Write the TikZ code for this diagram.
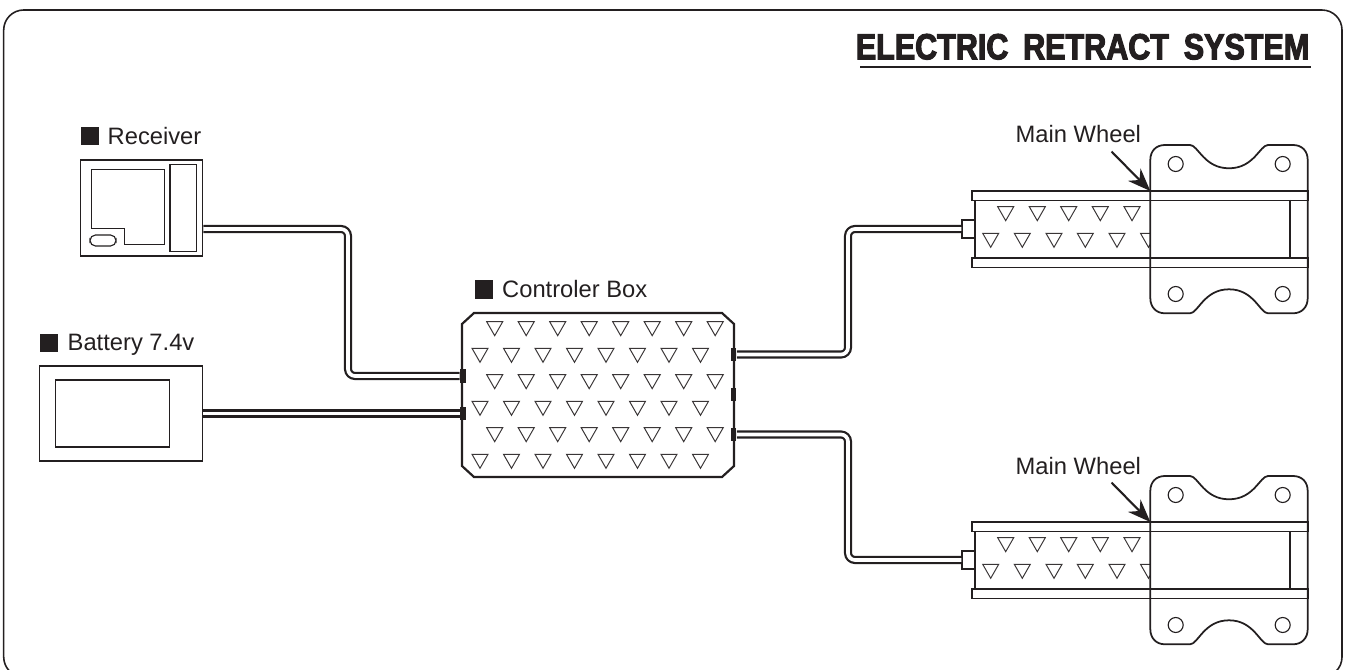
\documentclass[tikz,border=0pt]{standalone}
\usepackage{fontspec}
\setmainfont{Liberation Sans}
\newfontfamily\titlefont[FakeStretch=0.84,FakeBold=3,WordSpace=1.75]{Liberation Sans Bold}
\usetikzlibrary{calc,arrows.meta}
\definecolor{figInk}{HTML}{231F20}
\definecolor{figTri}{HTML}{3A3637}
\tikzset{
    boxline/.style={draw=figInk,line width=0.5pt,fill=white,inner sep=0pt},
    thinline/.style={draw=figInk,line width=0.32pt},
    tri/.style={draw=figTri,line width=0.28pt,line join=miter},
    sqmark/.style={fill=figInk,inner sep=0pt,minimum size=0.18cm},
    namelabel/.style={text=figInk,font=\fontsize{6.75}{8}\selectfont,anchor=base west,inner sep=0pt},
    wire/.style={draw=figInk,line width=0.62pt,double=white,double distance=1.05pt,rounded corners=0.07cm},
    plugblk/.style={fill=figInk,inner sep=0pt,minimum width=0.055cm,minimum height=0.13cm},
    pointer/.style={draw=figInk,line width=0.6pt,-{Stealth[length=6.5pt,width=5pt]}},
}
\newcommand{\tridown}[1]{\draw[tri] (#1) ++(-8,0) -- ++(16,0) -- ++(-8,14) -- cycle;}
\begin{document}
\begin{tikzpicture}[x=0.01cm,y=-0.01cm]
    \useasboundingbox (0,0) rectangle (1348,670);
    % outer frame, its lower edge runs off the page
    \begin{scope}
        \clip (0,0) rectangle (1348,670);
        \draw[figInk,line width=0.45pt,rounded corners=0.2cm] (3.7,10) rectangle (1342,677);
    \end{scope}
    % title with its rule
    \node[text=figInk,font=\titlefont\fontsize{10.33}{12}\selectfont,anchor=base east,inner sep=0pt] (title) at (1310,59.3) {ELECTRIC RETRACT SYSTEM};
    \draw[figInk,line width=0.75pt] (860,67) -- (1310.5,67);
    % receiver
    \node[boxline,minimum width=1.22cm,minimum height=0.96cm] (receiver) at (141.5,208) {};
    \draw[thinline] (91.5,169.5) -- (164.5,169.5) -- (164.5,244.5) -- (124.5,244.5) -- (124.5,228.5) -- (91.5,228.5) -- cycle;
    \draw[thinline] (170,164.5) rectangle (196.5,251.5);
    \draw[thinline,rounded corners=0.055cm] (90,235) rectangle (116,246);
    \node[sqmark] (recvmark) at (90,136) {};
    \node[namelabel] (recvname) at (107,145) {Receiver};
    % battery
    \node[boxline,minimum width=1.63cm,minimum height=0.95cm] (battery) at (121,413.5) {};
    \draw[figInk,line width=0.4pt] (55.5,380) rectangle (169.5,447);
    \node[sqmark] (battmark) at (49,343) {};
    \node[namelabel] (battname) at (67,350.5) {Battery 7.4v};
    % controller box
    \draw[boxline,line width=0.62pt] (474,313) -- (722,313) -- (734,324) -- (734,466) -- (722,477) -- (474,477) -- (462,466) -- (462,324) -- cycle;
    \foreach \y/\x in {321.7/494.7,348.3/480,374.7/494.7,401.3/480,427.7/494.7,454.3/480}{
        \foreach \i in {0,...,7}{
            \tridown{{\x+31.5*\i},\y}
        }
    }
    \node[sqmark] (ctrlmark) at (484,289.5) {};
    \node[namelabel] (ctrlname) at (501.5,297.7) {Controler Box};
    % plugs on the box
    \coordinate (recvout) at ($(receiver.east)+(0,21)$);
    \node[plugblk] (plugrecv) at (463,376) {};
    \node[plugblk] (plugbatt) at (463,413.5) {};
    \node[plugblk] (plugup) at (733.5,354.5) {};
    \node[plugblk] (plugmid) at (733.5,394.5) {};
    \node[plugblk] (plugdown) at (733.5,434.5) {};
    % both wheel units, the lower one is the upper one moved down
    \foreach \dy/\nm in {0/up,331/down}{
        \begin{scope}[shift={(0,\dy)}]
            \begin{scope}
                \clip (970,200) rectangle (1150.3,258);
                \foreach \x in {1005.7,1037.3,1068.7,1100.3,1132}{
                    \tridown{\x,206.7}
                }
                \foreach \x in {990.7,1022.3,1054,1085.3,1117,1148.5}{
                    \tridown{\x,233.3}
                }
            \end{scope}
            % tube end and far end
            \draw[boxline,fill=none] (975.3,200) -- (975.3,258);
            \draw[thinline] (1290,200) -- (1290,258);
            % rails
            \draw[boxline,line width=0.55pt,fill=none] (971.7,191) rectangle (1307.7,200.5);
            \draw[boxline,line width=0.55pt,fill=none] (971.7,258) rectangle (1307.7,267.5);
            % mounting plate
            \draw[figInk,line width=0.5pt] (1150.3,160) .. controls (1150.3,151) and (1156,145) .. (1165,145) -- (1190,145)
                .. controls (1198,145) and (1204,168.3) .. (1229,168.3) .. controls (1254,168.3) and (1260,145) .. (1268,145)
                -- (1293,145) .. controls (1302,145) and (1307.7,151) .. (1307.7,160) -- (1307.7,298)
                .. controls (1307.7,307) and (1302,313.3) .. (1293,313.3) -- (1268,313.3)
                .. controls (1260,313.3) and (1254,289.3) .. (1229,289.3) .. controls (1204,289.3) and (1198,313.3) .. (1190,313.3)
                -- (1165,313.3) .. controls (1156,313.3) and (1150.3,307) .. (1150.3,298) -- cycle;
            \foreach \x/\y in {1175.7/164,1282.7/164,1175.7/294,1282.7/294}{
                \draw[thinline] (\x,\y) circle (0.075cm);
            }
            % plug and label
            \node[boxline,minimum width=0.13cm,minimum height=0.18cm] (wheel\nm) at (968.7,229) {};
            \node[namelabel] (wheelname\nm) at (1015,143) {Main Wheel};
            \coordinate (tail\nm) at (1111.5,151.5);
            \coordinate (tip\nm) at (1150.3,191);
            \draw[pointer] (tail\nm) -- (tip\nm);
        \end{scope}
    }
    % wires
    \draw[wire] (recvout) -- (348,229) |- (plugrecv.west);
    \draw[wire] (battery.east) -- (plugbatt.west);
    \draw[wire] (plugup.east) -- (848,354.5) |- (wheelup.west);
    \draw[wire] (plugdown.east) -- (848,434.5) |- (wheeldown.west);
\end{tikzpicture}
\end{document}
